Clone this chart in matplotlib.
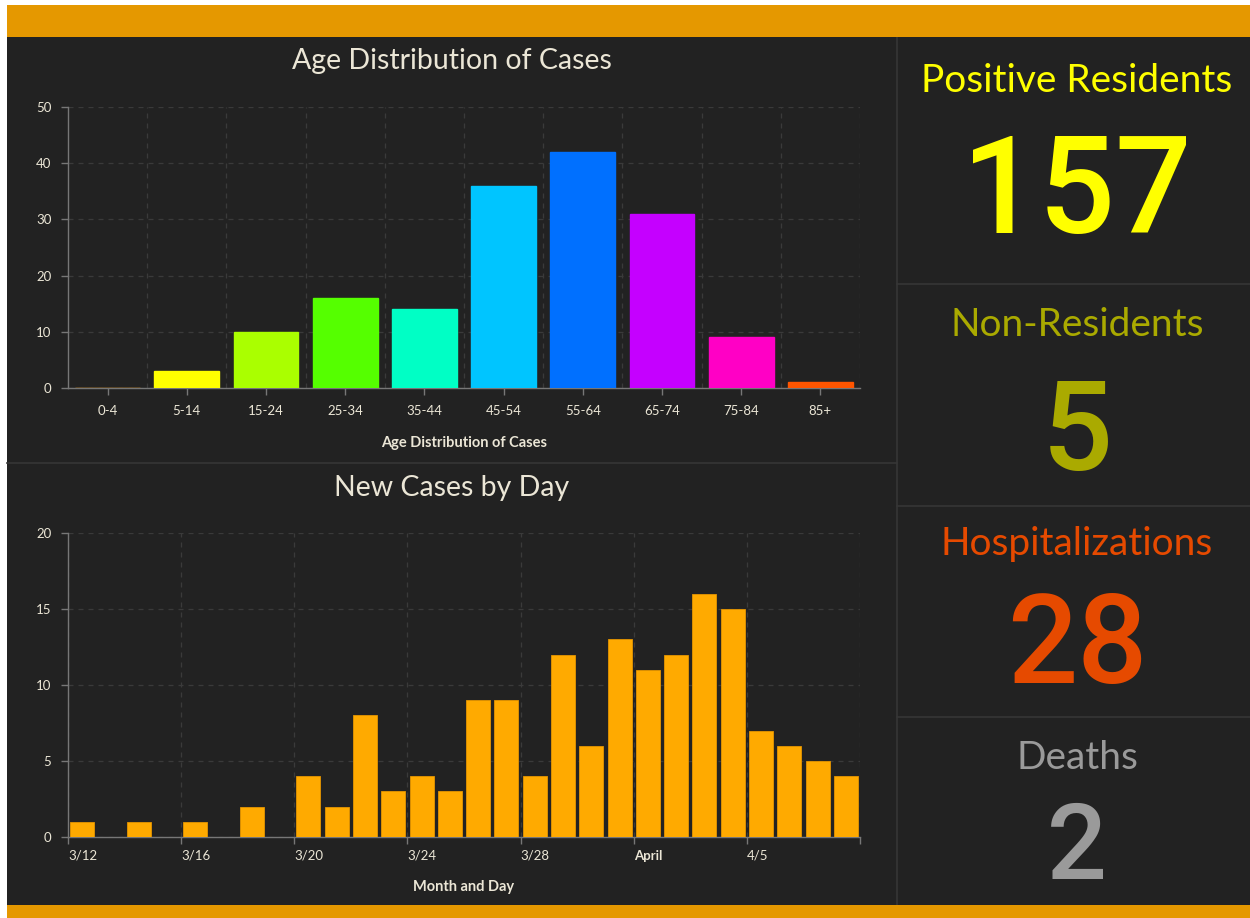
import matplotlib
matplotlib.use("Agg")
import matplotlib.pyplot as plt
from matplotlib.patches import Rectangle
from matplotlib.lines import Line2D
import matplotlib.transforms as mtransforms

# ---------------- data ----------------
age_groups = ["0-4", "5-14", "15-24", "25-34", "35-44", "45-54", "55-64", "65-74", "75-84", "85+"]
age_cases = [0, 3, 10, 16, 14, 36, 42, 31, 9, 1]
age_colors = ["#ff9900", "#ffff00", "#aaff00", "#55ff00", "#00ffc5", "#00c5ff",
              "#0070ff", "#c500ff", "#ff00c5", "#ff5500"]

# days from 3/12 to 4/8
day_cases = [1, 0, 1, 0, 1, 0, 2, 0, 4, 2, 8, 3, 4, 3, 9, 9, 4, 12, 6, 13, 11, 12, 16, 15, 7, 6, 5, 4]
day_tick_pos = [0, 4, 8, 12, 16, 20, 24, 28]
day_tick_labels = ["3/12", "3/16", "3/20", "3/24", "3/28", "April", "4/5", ""]

kpi_labels = ["Positive Residents", "Non-Residents", "Hospitalizations", "Deaths"]
kpi_values = ["157", "5", "28", "2"]
kpi_colors = ["#ffff00", "#aaaa00", "#e64a00", "#9a9a9a"]

# ---------------- style ----------------
BG = "#222222"
ORANGE = "#e59800"
TXT = "#ebe6d6"
GRID = "#3a3a3a"
AXC = "#777777"
W, H = 1250, 918
plt.rcParams['font.family'] = ['Lato', 'DejaVu Sans']

fig = plt.figure(figsize=(12.5, 9.18), dpi=100, facecolor="white")

def fx(x): return x / W
def fy(y): return 1 - y / H

# background panels
fig.patches.append(Rectangle((fx(7), fy(918)), fx(1250 - 7), (918 - 5) / H,
                             transform=fig.transFigure, facecolor=BG, edgecolor="none", zorder=-2))
fig.patches.append(Rectangle((fx(7), fy(37)), fx(1250 - 7), 32 / H,
                             transform=fig.transFigure, facecolor=ORANGE, edgecolor="none", zorder=-1))
fig.patches.append(Rectangle((fx(7), fy(918)), fx(1250 - 7), 13 / H,
                             transform=fig.transFigure, facecolor=ORANGE, edgecolor="none", zorder=-1))
# dividers
DIV = "#363636"
fig.lines.append(Line2D([fx(897), fx(897)], [fy(37), fy(905)], transform=fig.transFigure, color=DIV, lw=1.2, zorder=-1))
fig.lines.append(Line2D([fx(7), fx(897)], [fy(463), fy(463)], transform=fig.transFigure, color=DIV, lw=1.2, zorder=-1))
for yy in [284, 506, 717]:
    fig.lines.append(Line2D([fx(897), fx(1250)], [fy(yy), fy(yy)], transform=fig.transFigure, color=DIV, lw=1.2, zorder=-1))

def style_axes(ax):
    ax.set_zorder(5)
    ax.set_facecolor(BG)
    for s in ["top", "right"]:
        ax.spines[s].set_visible(False)
    for s in ["left", "bottom"]:
        ax.spines[s].set_color(AXC)
        ax.spines[s].set_linewidth(1.0)
    ax.tick_params(axis="both", colors=AXC, labelcolor=TXT, labelsize=9.5, length=5, width=1)
    ax.tick_params(axis="y", pad=7)
    ax.grid(True, which="major", axis="y", color=GRID, linestyle=(0, (4, 4)), linewidth=0.9)
    ax.set_axisbelow(True)

# ---------------- top chart ----------------
ax1 = fig.add_axes([fx(68), fy(388), fx(860 - 68), (388 - 107) / H])
style_axes(ax1)
x = list(range(len(age_groups)))
ax1.bar(x, age_cases, width=0.82, color=age_colors, edgecolor=age_colors, linewidth=1.0, zorder=3)
ax1.set_xlim(-0.5, len(age_groups) - 0.5)
ax1.set_ylim(0, 50)
ax1.set_yticks([0, 10, 20, 30, 40, 50])
ax1.set_xticks(x)
ax1.set_xticklabels(age_groups)
ax1.set_xticks([i + 0.5 for i in x], minor=True)
ax1.tick_params(axis="x", which="minor", length=0)
ax1.grid(True, which="minor", axis="x", color=GRID, linestyle=(0, (4, 4)), linewidth=0.9)
ax1.tick_params(axis="x", pad=7)
ax1.set_xlabel("Age Distribution of Cases", color=TXT, fontsize=10.5, fontweight="bold", labelpad=14)
fig.text(fx(452), fy(61), "Age Distribution of Cases", color=TXT, fontsize=20.5,
         ha="center", va="center")

# ---------------- bottom chart ----------------
ax2 = fig.add_axes([fx(68), fy(837), fx(860 - 68), (837 - 533) / H])
style_axes(ax2)
dx = [i + 0.5 for i in range(len(day_cases))]
ax2.bar(dx, day_cases, width=0.85, color="#ffaa00", edgecolor="#e69500", linewidth=0.6, zorder=3)
ax2.set_xlim(0, len(day_cases))
ax2.set_ylim(0, 20)
ax2.set_yticks([0, 5, 10, 15, 20])
ax2.set_xticks(day_tick_pos)
ax2.set_xticklabels(day_tick_labels)
ax2.grid(True, which="major", axis="x", color=GRID, linestyle=(0, (4, 4)), linewidth=0.9)
offset = mtransforms.ScaledTranslation(3 / 100, 0, fig.dpi_scale_trans)
for lab in ax2.get_xticklabels():
    lab.set_horizontalalignment("left")
    lab.set_transform(lab.get_transform() + offset)
    if lab.get_text() == "April":
        lab.set_fontweight("bold")
ax2.tick_params(axis="x", pad=4)
ax2.set_xlabel("Month and Day", color=TXT, fontsize=10.5, fontweight="bold", labelpad=13)
fig.text(fx(452), fy(488), "New Cases by Day", color=TXT, fontsize=20.5,
         ha="center", va="center")

# ---------------- KPI panel ----------------
label_base = [92, 336, 555, 769]
value_base = [233, 470, 683, 879]
value_sizes = [97, 90, 89, 76]
for lab, val, col, ly, vy, vs in zip(kpi_labels, kpi_values, kpi_colors, label_base, value_base, value_sizes):
    fig.text(fx(1077), fy(ly), lab, color=col, fontsize=28, ha="center", va="baseline")
    fig.text(fx(1077), fy(vy), val, color=col, fontsize=vs, ha="center", va="baseline",
             family=["Roboto", "DejaVu Sans"], fontweight="medium")

fig.savefig("out.png", dpi=100, facecolor="white")
